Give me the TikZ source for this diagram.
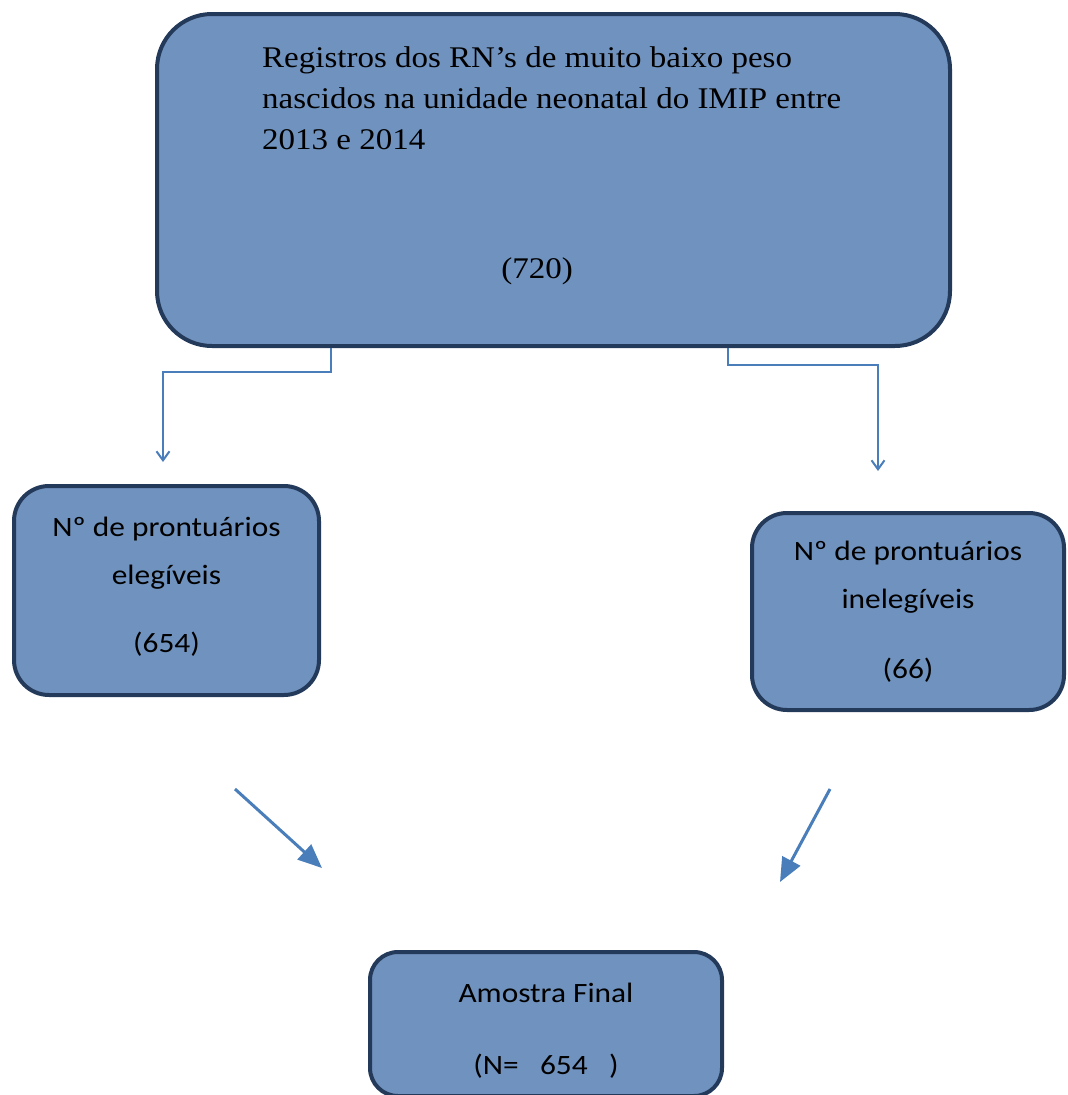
\documentclass[tikz,border=0pt]{standalone}
\usepackage{fontspec}
\setmainfont{Liberation Serif}[FakeStretch=1.1]
\newfontfamily\calib{Carlito}[FakeStretch=1.12]
\usetikzlibrary{arrows.meta}

\definecolor{boxfill}{RGB}{112,146,190}
\definecolor{boxline}{RGB}{36,58,90}
\definecolor{arrowblue}{RGB}{74,126,187}

\tikzset{
  flowbox/.style={draw=boxline, fill=boxfill, line width=4pt, rounded corners=#1, inner sep=0pt},
  flowbox/.default=35pt,
  calitext/.style={font=\calib\fontsize{28}{48}\selectfont, align=center},
  timestext/.style={font=\fontsize{30}{41}\selectfont, inner sep=0pt},
  thinarrow/.style={arrowblue, line width=2pt, -{Straight Barb[length=9pt,width=13pt]}},
  bigarrow/.style={arrowblue, line width=3pt, -{Triangle[length=24pt,width=20pt]}},
}

\begin{document}
\begin{tikzpicture}[x=1pt, y=-1pt]
\useasboundingbox (0,0) rectangle (1068,1095);

% boxes
\node[flowbox=55pt, minimum width=793pt, minimum height=332pt] (reg) at (553.5,180) {};
\node[timestext, anchor=north west, align=left] (regtxt) at (262,46)
  {Registros dos RN’s de muito baixo peso\\nascidos na unidade neonatal do IMIP entre\\2013 e 2014};
\node[timestext] (regnum) at (537,271) {(720)};

\node[flowbox, minimum width=305pt, minimum height=209pt] (eleg) at (166.5,590.5) {};
\node[calitext] (elegtxt) at (166.5,586.5) {Nº de prontuários\\elegíveis\\[20pt](654)};

\node[flowbox, minimum width=312pt, minimum height=197pt] (ineleg) at (908,611.5) {};
\node[calitext] (inelegtxt) at (908,611.5) {Nº de prontuários\\inelegíveis\\[22pt](66)};

\node[flowbox=28pt, minimum width=352pt, minimum height=144pt] (final) at (546,1024) {};
\node[calitext] (finaltxt) at (546,1031) {Amostra Final\\[24pt](N=\ \ \ 654\ \ \ )};

% arrows
\coordinate (elegin) at (163,462);
\coordinate (inelegin) at (878,471);
\draw[thinarrow] ([xshift=-222.5pt]reg.south) -- ++(0,24) -| (elegin);
\draw[thinarrow] ([xshift=174.5pt]reg.south) -- ++(0,17) -| (inelegin);

\coordinate (lstart) at (235,789);
\coordinate (lend) at (322,868);
\coordinate (rstart) at (830,789);
\coordinate (rend) at (780,882);
\draw[bigarrow] (lstart) -- (lend);
\draw[bigarrow] (rstart) -- (rend);
\end{tikzpicture}
\end{document}
